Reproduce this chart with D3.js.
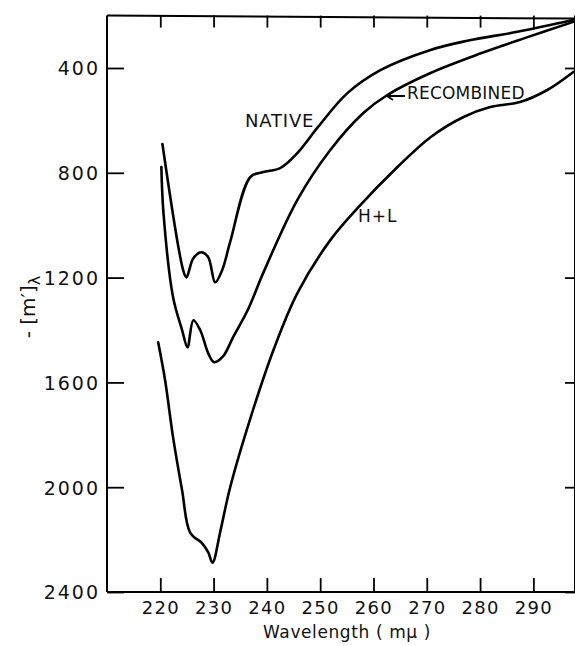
<!DOCTYPE html>
<html>
<head>
<meta charset="utf-8">
<script src="https://cdn.jsdelivr.net/npm/d3@7"></script>
<style>
  body { margin: 0; background: #fff; }
  svg { display: block; }
  text { font-family: "DejaVu Sans", sans-serif; fill: #111; }
</style>
</head>
<body>
<svg width="575" height="646"></svg>
<script>
// wavelength (m\u03bc) and -[m']\u03bb
var nativeW = [220.4, 224.3, 224.9, 226.2, 227.7, 229.0, 230.3, 231.6, 233.1, 236.9, 239.3, 242.5, 245.7, 249.6, 255.1, 261.3, 270.7, 277.6, 287.0, 297.5];
var nativeV = [690, 1172, 1199, 1126, 1103, 1122, 1218, 1172, 1065, 816, 797, 782, 725, 625, 496, 408, 331, 296, 262, 217];

var recombW = [220.2, 220.6, 222.4, 224.1, 225.1, 226.2, 227.5, 229.0, 230.1, 231.8, 233.6, 236.5, 239.3, 245.7, 251.9, 258.1, 262.6, 270.7, 280.0, 288.5, 297.5];
var recombV = [778, 954, 1275, 1401, 1466, 1363, 1401, 1489, 1523, 1500, 1430, 1320, 1183, 904, 713, 572, 503, 419, 345, 285, 224];

var hlW = [219.6, 220.9, 222.4, 224.1, 225.6, 227.9, 229.0, 229.8, 231.3, 233.1, 236.9, 241.2, 245.7, 251.9, 257.0, 264.5, 270.7, 276.9, 281.9, 287.5, 292.6, 297.5];
var hlV = [1447, 1592, 1810, 2013, 2173, 2215, 2249, 2288, 2165, 2001, 1737, 1478, 1260, 1057, 935, 778, 664, 587, 549, 530, 484, 415];

var xTicks = [220, 230, 240, 250, 260, 270, 280, 290];
var yTicks = [400, 800, 1200, 1600, 2000, 2400];

var svg = d3.select("svg");

var x = d3.scaleLinear().domain([210, 298]).range([107, 576]);
var y = d3.scaleLinear().domain([200, 2400]).range([15.6, 592]);

var line = d3.line()
    .x(function(d) { return x(d[0]); })
    .y(function(d) { return y(d[1]); })
    .curve(d3.curveCatmullRom.alpha(0.5));

function pairs(w, v) {
    return w.map(function(d, i) { return [d, v[i]]; });
}

var series = [pairs(nativeW, nativeV), pairs(recombW, recombV), pairs(hlW, hlV)];

svg.append("g")
    .selectAll("path")
    .data(series)
    .enter().append("path")
    .attr("d", line)
    .attr("fill", "none")
    .attr("stroke", "#000")
    .attr("stroke-width", 2.6)
    .attr("stroke-linejoin", "round")
    .attr("stroke-linecap", "round");

// frame
var frame = svg.append("g")
    .attr("stroke", "#000")
    .attr("stroke-width", 2)
    .attr("fill", "none");
frame.append("line").attr("x1", x(210)).attr("x2", x(210)).attr("y1", y(200)).attr("y2", y(2400));
frame.append("line").attr("x1", x(210)).attr("x2", x(298)).attr("y1", y(2400)).attr("y2", y(2400));
frame.append("line").attr("x1", x(210)).attr("x2", x(298)).attr("y1", y(200)).attr("y2", y(200) + 3);
frame.append("line").attr("x1", x(298) - 1).attr("x2", x(298) - 1).attr("y1", y(200)).attr("y2", y(2400));

// axes
var axBottom = svg.append("g")
    .attr("transform", "translate(0," + y(2400) + ")")
    .call(d3.axisBottom(x).tickValues(xTicks).tickSizeInner(-14).tickSizeOuter(0).tickPadding(9));

var axTop = svg.append("g")
    .attr("transform", "translate(0," + y(200) + ")")
    .call(d3.axisTop(x).tickValues(xTicks).tickSizeInner(-12).tickSizeOuter(0).tickFormat(""));

var axLeft = svg.append("g")
    .attr("transform", "translate(" + x(210) + ",0)")
    .call(d3.axisLeft(y).tickValues(yTicks).tickFormat(d3.format("d")).tickSizeInner(-17).tickSizeOuter(0).tickPadding(7));

var axRight = svg.append("g")
    .attr("transform", "translate(" + (x(298) - 1) + ",0)")
    .call(d3.axisRight(y).tickValues(yTicks).tickSizeInner(-10).tickSizeOuter(0).tickFormat(""));

[axBottom, axTop, axLeft, axRight].forEach(function(g) {
    g.select(".domain").remove();
    g.selectAll(".tick line").attr("stroke", "#000").attr("stroke-width", 1.8);
});

axBottom.selectAll(".tick text")
    .style("font-size", "18px")
    .style("letter-spacing", "1.3px")
    .attr("fill", "#111");

axLeft.selectAll(".tick text")
    .style("font-size", "19px")
    .style("letter-spacing", "2px")
    .attr("dy", "0.36em")
    .attr("fill", "#111");

// axis titles
svg.append("text")
    .attr("x", 347)
    .attr("y", 638)
    .attr("text-anchor", "middle")
    .style("font-size", "17px")
    .style("letter-spacing", "0.6px")
    .text("Wavelength ( m\u03bc )");

var yl = svg.append("text")
    .attr("transform", "translate(35,307) rotate(-90)")
    .attr("text-anchor", "middle")
    .style("font-size", "20px");
yl.append("tspan").text("- [m\u2032]");
yl.append("tspan").attr("dy", 5).style("font-size", "16px").text("\u03bb");

// curve labels
svg.append("text").attr("x", 245).attr("y", 127)
    .style("font-size", "18px").style("letter-spacing", "0.8px").text("NATIVE");
svg.append("text").attr("x", 407).attr("y", 99)
    .style("font-size", "17px").style("letter-spacing", "0.2px").text("RECOMBINED");
svg.append("text").attr("x", 358).attr("y", 222)
    .style("font-size", "17px").style("letter-spacing", "1px").text("H+L");

// arrow to the recombined curve
svg.append("path")
    .attr("d", "M405,96 L387,96 M387,96 L393,92 M387,96 L393,100")
    .attr("stroke", "#000")
    .attr("stroke-width", 1.8)
    .attr("fill", "none");
</script>
</body>
</html>
